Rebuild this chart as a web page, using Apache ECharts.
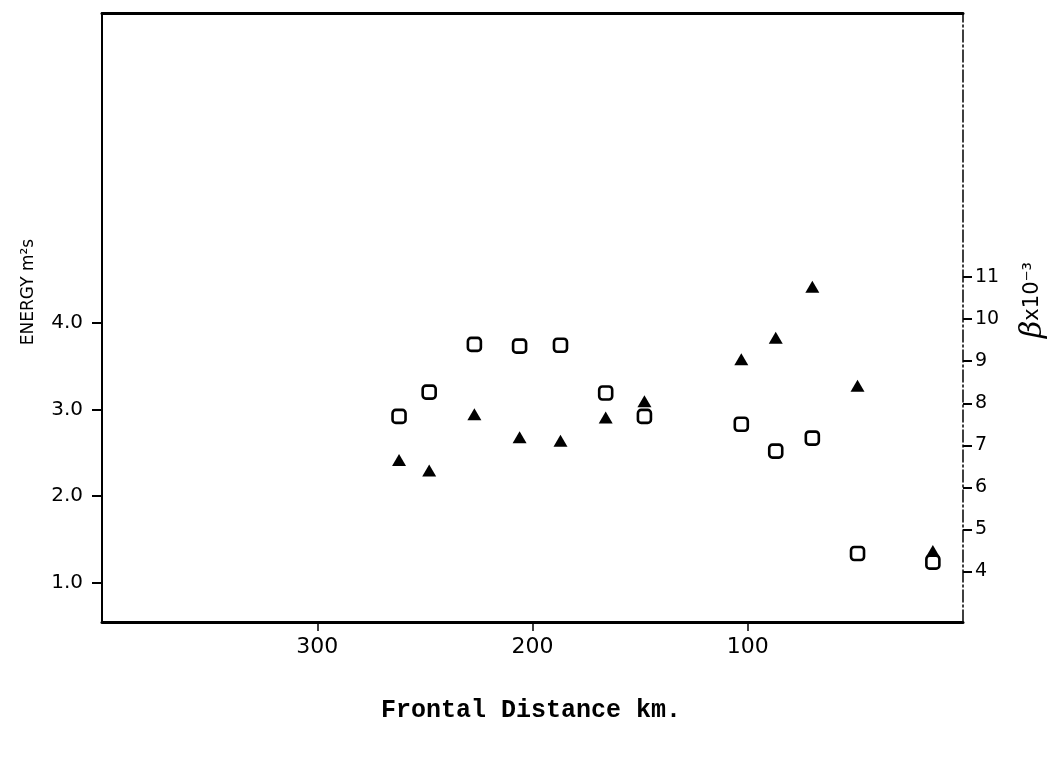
<!DOCTYPE html>
<html>
<head>
<meta charset="utf-8">
<script src="https://cdn.jsdelivr.net/npm/echarts@6/dist/echarts.min.js"></script>
<style>
  html, body { margin: 0; padding: 0; background: #fff; }
  #chart { width: 1052px; height: 759px; }
</style>
</head>
<body>
<div id="chart"></div>
<script>
// Stations along the section, distance from the front (km)
const distanceKm = [262, 248, 227, 206, 187, 166, 148, 103, 87, 70, 49, 14];
// Energy (m^2 s) at each station – open squares, left scale
const energyValues = [2.92, 3.20, 3.75, 3.73, 3.74, 3.19, 2.92, 2.83, 2.52, 2.67, 1.34, 1.24];
// Beta x 10^-3 at each station – filled triangles, right scale
const betaValues = [6.65, 6.40, 7.74, 7.19, 7.11, 7.66, 8.05, 9.05, 9.56, 10.77, 8.42, 4.49];

// Tick labels
const distanceTicks = [100, 200, 300];
const energyTicks = [1, 2, 3, 4];
const betaTicks = [4, 5, 6, 7, 8, 9, 10, 11];

const energyPoints = distanceKm.map((d, i) => [d, energyValues[i]]);
const betaPoints = distanceKm.map((d, i) => [d, betaValues[i]]);

const ink = '#000';
const numFont = 'DejaVu Sans';

const chart = echarts.init(document.getElementById('chart'), null, { renderer: 'canvas' });

chart.setOption({
  backgroundColor: '#fff',
  animation: false,
  grid: { left: 102, top: 13, width: 861, height: 609 },
  xAxis: [
    {
      type: 'value', min: 0, max: 400, inverse: true, position: 'bottom',
      axisLine: { show: true, onZero: false, lineStyle: { color: ink, width: 3 } },
      axisTick: { show: true, customValues: distanceTicks, length: 9, lineStyle: { color: ink, width: 1.5 } },
      axisLabel: { customValues: distanceTicks, color: ink, fontSize: 22, fontFamily: numFont, margin: 14 },
      splitLine: { show: false }
    },
    {
      type: 'value', min: 0, max: 400, inverse: true, position: 'top',
      axisLine: { show: true, onZero: false, lineStyle: { color: ink, width: 3 } },
      axisTick: { show: false }, axisLabel: { show: false }, splitLine: { show: false }
    }
  ],
  yAxis: [
    {
      type: 'value', min: 0.55, max: 7.57, position: 'left',
      axisLine: { show: true, onZero: false, lineStyle: { color: ink, width: 2 } },
      axisTick: { show: true, customValues: energyTicks, length: 10, lineStyle: { color: ink, width: 2 } },
      axisLabel: {
        customValues: energyTicks, color: ink, fontSize: 20, fontFamily: numFont, margin: 19,
        formatter: v => v.toFixed(1)
      },
      splitLine: { show: false }
    },
    {
      type: 'value', min: 2.8, max: 17.28, position: 'right',
      axisLine: { show: true, onZero: false, lineStyle: { color: ink, width: 1.5, type: [12, 3, 2, 3] } },
      axisTick: { show: true, customValues: betaTicks, length: 9, lineStyle: { color: ink, width: 2 } },
      axisLabel: { customValues: betaTicks, color: ink, fontSize: 19, fontFamily: numFont, margin: 12 },
      splitLine: { show: false }
    }
  ],
  series: [
    {
      name: 'Energy', type: 'scatter', xAxisIndex: 0, yAxisIndex: 0,
      data: energyPoints,
      symbol: 'roundRect', symbolSize: 13,
      itemStyle: { color: '#fff', borderColor: ink, borderWidth: 2.6, opacity: 1 }
    },
    {
      name: 'Beta', type: 'scatter', xAxisIndex: 0, yAxisIndex: 1,
      data: betaPoints,
      symbol: 'triangle', symbolSize: [14, 12],
      itemStyle: { color: ink, opacity: 1 }
    }
  ],
  graphic: [
    {
      type: 'text', x: 29, y: 292, rotation: Math.PI / 2,
      style: {
        text: 'ENERGY m²s', fill: ink, font: '17px "DejaVu Sans"',
        align: 'center', verticalAlign: 'middle'
      }
    },
    {
      type: 'text', x: 1033, y: 300, rotation: Math.PI / 2,
      style: {
        text: '{b|β}{n|x10⁻³}', fill: ink, align: 'center', verticalAlign: 'middle',
        rich: {
          b: { fontSize: 30, fontStyle: 'italic', fontFamily: 'DejaVu Serif', fill: ink },
          n: { fontSize: 21, fontFamily: 'DejaVu Sans', fill: ink }
        }
      }
    },
    {
      type: 'text', x: 531, y: 711,
      style: {
        text: 'Frontal Distance km.', fill: ink, font: 'bold 25px "Liberation Mono"',
        align: 'center', verticalAlign: 'middle'
      }
    }
  ]
});
</script>
</body>
</html>
